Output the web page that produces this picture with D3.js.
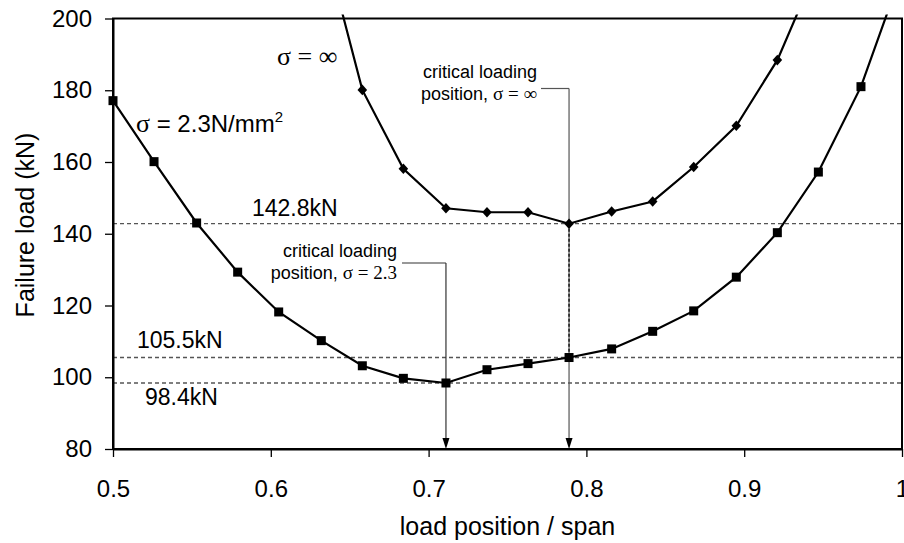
<!DOCTYPE html>
<html>
<head>
<meta charset="utf-8">
<script src="https://cdn.jsdelivr.net/npm/d3@7"></script>
<style>
  body { margin: 0; background: #fff; }
  text { font-family: "Liberation Sans", Arial, sans-serif; fill: #000; }
  .serif { font-family: "Liberation Serif", "Times New Roman", serif; }
</style>
</head>
<body>
<div class="chart-section"></div>
<script>
const positions = [0.5, 0.526, 0.553, 0.579, 0.605, 0.632, 0.658, 0.684, 0.711, 0.737,
  0.763, 0.789, 0.816, 0.842, 0.868, 0.895, 0.921, 0.947, 0.974, 1.0];
const loadSigma23 = [177.1, 160.1, 143.0, 129.3, 118.2, 110.2, 103.2, 99.7, 98.4, 102.1,
  103.8, 105.5, 107.9, 112.8, 118.5, 127.9, 140.3, 157.2, 181.0, 213];
const loadSigmaInf = [null, null, null, null, null, 224, 180.1, 158.1, 147.1, 146.0,
  146.0, 142.8, 146.2, 149.0, 158.6, 170.1, 188.4, 215, null, null];
const refLoads = [142.8, 105.5, 98.4];
const critical = [
  { pos: 0.711, load: 98.4 },
  { pos: 0.789, load: 142.8, lower: 105.5 },
];
const xTicks = [0.5, 0.6, 0.7, 0.8, 0.9, 1];
const yTicks = [80, 100, 120, 140, 160, 180, 200];

const width = 904;
const height = 543;
const m = { left: 113, right: 2, top: 18.5, bottom: 94 };

const x = d3.scaleLinear().domain([0.5, 1]).range([m.left, width - m.right]);
const y = d3.scaleLinear().domain([80, 200]).range([height - m.bottom, m.top]);

const svg = d3
  .select(".chart-section")
  .append("svg")
  .attr("width", width)
  .attr("height", height)
  .attr("viewBox", [0, 0, width, height]);

svg.append("defs")
  .append("clipPath")
  .attr("id", "clip")
  .append("rect")
  .attr("x", 0)
  .attr("y", m.top - 4)
  .attr("width", width)
  .attr("height", height);

// reference levels
svg.append("g")
  .selectAll("line")
  .data(refLoads)
  .join("line")
  .attr("x1", x(0.5))
  .attr("x2", x(1))
  .attr("y1", (d) => y(d))
  .attr("y2", (d) => y(d))
  .attr("stroke", "#555")
  .attr("stroke-width", 1.3)
  .attr("stroke-dasharray", "4,3");

const refLabels = [
  { text: "142.8kN", x: 252, dy: -7.5, v: 142.8 },
  { text: "105.5kN", x: 137, dy: -10, v: 105.5 },
  { text: "98.4kN", x: 145, dy: 22, v: 98.4 },
];
svg.append("g")
  .selectAll("text")
  .data(refLabels)
  .join("text")
  .attr("x", (d) => d.x)
  .attr("y", (d) => y(d.v) + d.dy)
  .attr("font-size", 23)
  .text((d) => d.text);

// critical position leaders
const yBase = y(80);
svg.append("line")
  .attr("x1", x(critical[1].pos)).attr("x2", x(critical[1].pos))
  .attr("y1", 88.5).attr("y2", yBase - 8)
  .attr("stroke", "#555").attr("stroke-width", 1.2);
svg.append("line")
  .attr("x1", 541).attr("x2", x(critical[1].pos))
  .attr("y1", 88.5).attr("y2", 88.5)
  .attr("stroke", "#555").attr("stroke-width", 1.2);
svg.append("line")
  .attr("x1", x(critical[1].pos)).attr("x2", x(critical[1].pos))
  .attr("y1", y(critical[1].load)).attr("y2", y(critical[1].lower))
  .attr("stroke", "#222").attr("stroke-width", 1.6)
  .attr("stroke-dasharray", "3,2");

svg.append("line")
  .attr("x1", x(critical[0].pos)).attr("x2", x(critical[0].pos))
  .attr("y1", 263).attr("y2", yBase - 8)
  .attr("stroke", "#333").attr("stroke-width", 1.2);
svg.append("line")
  .attr("x1", 402).attr("x2", x(critical[0].pos))
  .attr("y1", 263).attr("y2", 263)
  .attr("stroke", "#333").attr("stroke-width", 1.2);

svg.append("g")
  .selectAll("path")
  .data(critical)
  .join("path")
  .attr("d", (d) => {
    const cx = x(d.pos);
    return `M${cx - 3.5},${yBase - 11}L${cx + 3.5},${yBase - 11}L${cx},${yBase}Z`;
  })
  .attr("fill", "#000");

// series
const line = d3
  .line()
  .defined((d) => d[1] != null)
  .x((d) => x(d[0]))
  .y((d) => y(d[1]));

const plot = svg.append("g").attr("clip-path", "url(#clip)");

const seriesA = d3.zip(positions, loadSigma23);
const seriesB = d3.zip(positions, loadSigmaInf);

plot.append("path")
  .datum(seriesA)
  .attr("fill", "none")
  .attr("stroke", "#000")
  .attr("stroke-width", 2.2)
  .attr("d", line);

plot.append("path")
  .datum(seriesB)
  .attr("fill", "none")
  .attr("stroke", "#000")
  .attr("stroke-width", 2.2)
  .attr("d", line);

plot.append("g")
  .selectAll("rect")
  .data(seriesA)
  .join("rect")
  .attr("x", (d) => x(d[0]) - 4.5)
  .attr("y", (d) => y(d[1]) - 4.5)
  .attr("width", 9)
  .attr("height", 9)
  .attr("fill", "#000");

plot.append("g")
  .selectAll("path")
  .data(seriesB.filter((d) => d[1] != null))
  .join("path")
  .attr("transform", (d) => `translate(${x(d[0])},${y(d[1])})`)
  .attr("d", "M0,-5.3L4.8,0L0,5.3L-4.8,0Z")
  .attr("fill", "#000");

// frame and axes
svg.append("rect")
  .attr("x", x(0.5))
  .attr("y", y(200))
  .attr("width", x(1) - x(0.5))
  .attr("height", y(80) - y(200))
  .attr("fill", "none")
  .attr("stroke", "#000")
  .attr("stroke-width", 2);

const xAxis = svg.append("g")
  .attr("transform", `translate(0,${y(80)})`)
  .call(
    d3.axisBottom(x)
      .tickValues(xTicks)
      .tickSize(8)
      .tickSizeOuter(0)
      .tickPadding(23)
      .tickFormat((d) => (d === 1 ? "1" : d.toFixed(1)))
  );

const yAxis = svg.append("g")
  .attr("transform", `translate(${x(0.5)},0)`)
  .call(
    d3.axisLeft(y)
      .tickValues(yTicks)
      .tickSize(8)
      .tickSizeOuter(0)
      .tickPadding(13)
  );

[xAxis, yAxis].forEach((g) => {
  g.select(".domain").attr("stroke-width", 2);
  g.selectAll(".tick line").attr("stroke-width", 1.3);
  g.selectAll(".tick text")
    .attr("font-size", 24)
    .attr("font-family", "Liberation Sans, Arial, sans-serif")
    .attr("fill", "#000");
});

svg.append("text")
  .attr("x", (x(0.5) + x(1)) / 2)
  .attr("y", 535)
  .attr("text-anchor", "middle")
  .attr("font-size", 25)
  .text("load position / span");

svg.append("text")
  .attr("transform", `translate(34,225) rotate(-90)`)
  .attr("text-anchor", "middle")
  .attr("font-size", 25)
  .text("Failure load (kN)");

// curve labels
const lblInf = svg.append("text").attr("x", 277).attr("y", 65).attr("font-size", 26);
lblInf.append("tspan").attr("class", "serif").text("σ = ∞");

const lbl23 = svg.append("text").attr("x", 136).attr("y", 132).attr("font-size", 24);
lbl23.append("tspan").attr("class", "serif").attr("font-size", 26).text("σ");
lbl23.append("tspan").text(" = 2.3N/mm");
lbl23.append("tspan").attr("font-size", 15).attr("dy", -10).text("2");

// annotation texts
const ann = [
  { x: 537, y: 78, sym: "∞" },
  { x: 397, y: 257, sym: "2.3" },
];
ann.forEach((a) => {
  svg.append("text")
    .attr("x", a.x).attr("y", a.y)
    .attr("text-anchor", "end")
    .attr("font-size", 18)
    .text("critical loading");
  const t = svg.append("text")
    .attr("x", a.x).attr("y", a.y + 22)
    .attr("text-anchor", "end")
    .attr("font-size", 18);
  t.append("tspan").text("position, ");
  t.append("tspan").attr("class", "serif").attr("font-size", 19).text("σ = " + a.sym);
});
</script>
</body>
</html>
